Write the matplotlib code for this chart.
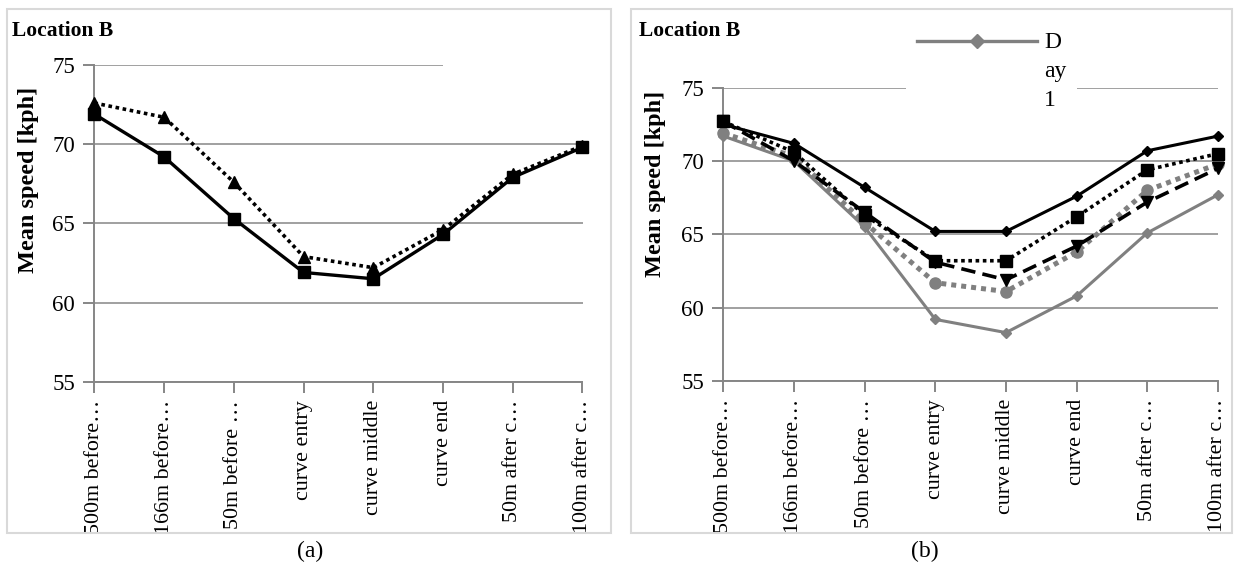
import matplotlib
matplotlib.use("Agg")
import matplotlib.pyplot as plt
from matplotlib.patches import Rectangle
from matplotlib.lines import Line2D
from matplotlib.transforms import Bbox, TransformedBbox

plt.rcParams['font.family'] = ['Liberation Serif', 'DejaVu Serif']

categories = ["500m before\u2026", "166m before\u2026", "50m before \u2026", "curve entry",
              "curve middle", "curve end", "50m after c\u2026", "100m after c\u2026"]

# panel (a)
a_solid = [71.9, 69.2, 65.3, 61.9, 61.5, 64.3, 67.9, 69.8]
a_dotted = [72.6, 71.7, 67.6, 62.9, 62.2, 64.6, 68.1, 69.9]

# panel (b)
b_day1 = [71.7, 70.0, 65.5, 59.2, 58.3, 60.8, 65.1, 67.7]
b_solid = [72.5, 71.2, 68.2, 65.2, 65.2, 67.6, 70.7, 71.7]
b_square = [72.7, 70.6, 66.3, 63.2, 63.2, 66.2, 69.4, 70.5]
b_tri = [72.7, 70.0, 66.5, 63.1, 61.9, 64.2, 67.2, 69.5]
b_circle = [71.9, 70.3, 65.8, 61.7, 61.1, 63.8, 68.0, 69.8]

yticks = [55, 60, 65, 70, 75]

W, H = 1234, 567
fig = plt.figure(figsize=(W / 100, H / 100), dpi=100)
fig.patch.set_facecolor('white')

AX_GRAY = '#868686'
GRAY = '#808080'


def fx(px):
    return px / W


def fy(py):
    return 1 - py / H


def style_axes(ax, frame):
    x = list(range(len(categories)))
    ax.set_xlim(0, len(categories) - 1)
    ax.set_ylim(55, 75)
    ax.set_yticks(yticks)
    ax.set_xticks(x)
    ax.set_xticklabels(categories, rotation=90, fontsize=15.8, va='top', ha='center')
    for s in ['top', 'right']:
        ax.spines[s].set_visible(False)
    for s in ['left', 'bottom']:
        ax.spines[s].set_color(AX_GRAY)
        ax.spines[s].set_linewidth(1.4)
    ax.tick_params(axis='both', direction='out', color=AX_GRAY, width=1.4, length=8)
    ax.tick_params(axis='y', labelsize=16.5, pad=6)
    ax.tick_params(axis='x', pad=5)
    ax.yaxis.grid(True, color=AX_GRAY, linewidth=1.1)
    ax.set_axisbelow(True)
    x0, y0, x1, y1 = frame
    bb = TransformedBbox(Bbox.from_extents(fx(x0), fy(y1), fx(x1), fy(y0)), fig.transFigure)
    for lbl in ax.get_xticklabels():
        lbl.set_clip_on(True)
        lbl.set_clip_box(bb)
    return x


# ---------- panel (a) ----------
axA = fig.add_axes([fx(94.3), fy(381.7), fx(582.5) - fx(94.3), fy(65) - fy(381.7)])
xs = style_axes(axA, (7, 9, 611, 533))
axA.plot(xs, a_solid, color='black', lw=2.4, marker='s', ms=8, clip_on=False, zorder=3)
axA.plot(xs, a_dotted, color='black', lw=2.6, ls=(0, (1, 1)), marker='^', ms=8,
         clip_on=False, zorder=3)

# ---------- panel (b) ----------
axB = fig.add_axes([fx(723.3), fy(381), fx(1218) - fx(723.3), fy(87.7) - fy(381)])
xs = style_axes(axB, (631, 9, 1232, 533))
axB.plot(xs, b_day1, color=GRAY, lw=2.2, marker='D', ms=5, clip_on=False, zorder=3)
axB.plot(xs, b_solid, color='black', lw=2.2, marker='D', ms=5, clip_on=False, zorder=3)
axB.plot(xs, b_circle, color=GRAY, lw=3.6, ls=(0, (1, 1)), marker='o', ms=8,
         clip_on=False, zorder=3)
axB.plot(xs, b_tri, color='black', lw=2.6, ls=(0, (4, 2)), marker='v', ms=9,
         clip_on=False, zorder=3)
axB.plot(xs, b_square, color='black', lw=2.6, ls=(0, (1, 1)), marker='s', ms=8,
         clip_on=False, zorder=3)

# y labels
fig.text(fx(29), fy(180), 'Mean speed [kph]', rotation=90, fontsize=17.5,
         fontweight='bold', va='center', ha='center')
fig.text(fx(656), fy(184), 'Mean speed [kph]', rotation=90, fontsize=17.5,
         fontweight='bold', va='center', ha='center')

# frames
for (x0, y0, x1, y1) in [(7, 9, 611, 533), (631, 9, 1232, 533)]:
    fig.add_artist(Rectangle((fx(x0), fy(y1)), fx(x1) - fx(x0), fy(y0) - fy(y1),
                             transform=fig.transFigure, fill=False,
                             edgecolor='#d9d9d9', lw=1.5, zorder=1))

# blank (hidden legend) areas covering top gridline
fig.add_artist(Rectangle((fx(443), fy(80)), fx(600) - fx(443), fy(50) - fy(80),
                         transform=fig.transFigure, facecolor='white', edgecolor='none',
                         zorder=5))
fig.add_artist(Rectangle((fx(906), fy(108)), fx(1077) - fx(906), fy(12) - fy(108),
                         transform=fig.transFigure, facecolor='white', edgecolor='none',
                         zorder=5))
# visible legend entry for Day 1
fig.add_artist(Line2D([fx(917), fx(977), fx(1037)], [fy(41), fy(41), fy(41)],
                      transform=fig.transFigure, color=GRAY, lw=2.4,
                      marker='D', ms=7, markevery=[1], zorder=6))
for txt, yy in [("D", 43), ("ay", 72), ("1", 100)]:
    fig.text(fx(1044), fy(yy), txt, fontsize=17, va='center', ha='left', zorder=7)

# titles
fig.text(fx(12), fy(31), 'Location B', fontsize=15.5, fontweight='bold', va='center', ha='left')
fig.text(fx(639), fy(31), 'Location B', fontsize=15.5, fontweight='bold', va='center', ha='left')

# captions
fig.text(fx(310), fy(551), '(a)', fontsize=17, va='center', ha='center')
fig.text(fx(925), fy(551), '(b)', fontsize=17, va='center', ha='center')

fig.savefig('out.png', dpi=100, facecolor='white')
